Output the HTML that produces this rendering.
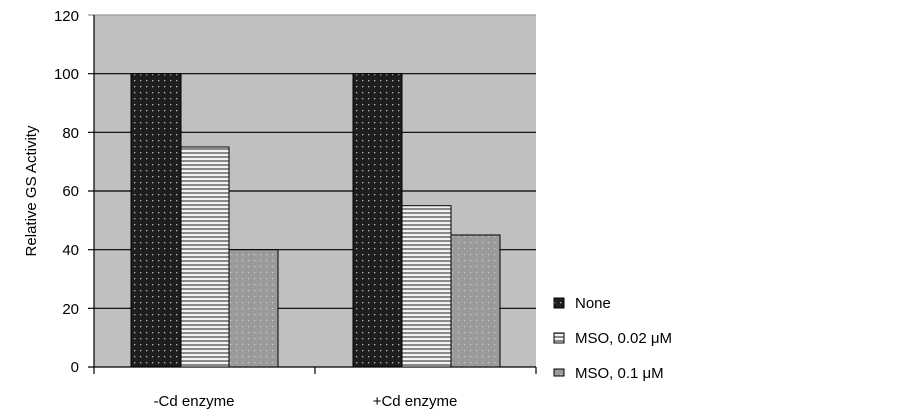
<!DOCTYPE html>
<html><head><style>body{margin:0;background:#fff}svg{display:block}text{font-family:"Liberation Sans",sans-serif;font-size:15px;fill:#000}</style></head><body>
<svg width="903" height="412" xmlns="http://www.w3.org/2000/svg">
<defs>
<pattern id="p1" width="6" height="6" patternUnits="userSpaceOnUse"><rect width="6" height="6" fill="#1e1e1e"/><rect x="2" y="2" width="1.3" height="1.3" fill="#bbb"/></pattern>
<pattern id="p2" width="4" height="4" patternUnits="userSpaceOnUse"><rect width="4" height="4" fill="#f2f2f2"/><rect y="0" width="4" height="2" fill="#8a8a8a"/></pattern>
<pattern id="p3" width="6" height="6" patternUnits="userSpaceOnUse"><rect width="6" height="6" fill="#9a9a9a"/><rect x="2" y="2" width="1.2" height="1.2" fill="#ccc"/></pattern>
</defs>
<rect x="94" y="15" width="442" height="352" fill="#c0c0c0"/>
<g stroke="#000" stroke-width="1.2">
<line x1="88" y1="15" x2="536" y2="15" stroke="#999"/>
<line x1="88" y1="73.7" x2="536" y2="73.7"/>
<line x1="88" y1="132.3" x2="536" y2="132.3"/>
<line x1="88" y1="191" x2="536" y2="191"/>
<line x1="88" y1="249.7" x2="536" y2="249.7"/>
<line x1="88" y1="308.3" x2="536" y2="308.3"/>
<line x1="88" y1="367" x2="536" y2="367"/>
<line x1="94" y1="15" x2="94" y2="374"/>
<line x1="315" y1="367" x2="315" y2="374"/>
<line x1="536" y1="367" x2="536" y2="374"/>
</g>
<g stroke="#000" stroke-width="1">
<rect x="131" y="73.7" width="50" height="293.3" fill="url(#p1)"/>
<rect x="181" y="147" width="48" height="220" fill="url(#p2)"/>
<rect x="229" y="249.7" width="49" height="117.3" fill="url(#p3)"/>
<rect x="353" y="73.7" width="49" height="293.3" fill="url(#p1)"/>
<rect x="402" y="205.7" width="49" height="161.3" fill="url(#p2)"/>
<rect x="451" y="235" width="49" height="132" fill="url(#p3)"/>
</g>
<g text-anchor="end">
<text x="79" y="21">120</text><text x="79" y="79">100</text><text x="79" y="138">80</text>
<text x="79" y="196">60</text><text x="79" y="255">40</text><text x="79" y="314">20</text><text x="79" y="372">0</text>
</g>
<text transform="translate(36,191) rotate(-90)" text-anchor="middle">Relative GS Activity</text>
<text x="194" y="406" text-anchor="middle">-Cd enzyme</text>
<text x="415" y="406" text-anchor="middle">+Cd enzyme</text>
<g stroke="#000" stroke-width="1">
<rect x="554" y="298" width="10" height="10" fill="url(#p1)"/>
<rect x="554" y="333" width="10" height="10" fill="url(#p2)"/>
<rect x="554" y="369" width="10" height="7" fill="url(#p3)"/>
</g>
<text x="575" y="308">None</text>
<text x="575" y="343">MSO, 0.02 μM</text>
<text x="575" y="378">MSO, 0.1 μM</text>
</svg>
</body></html>
